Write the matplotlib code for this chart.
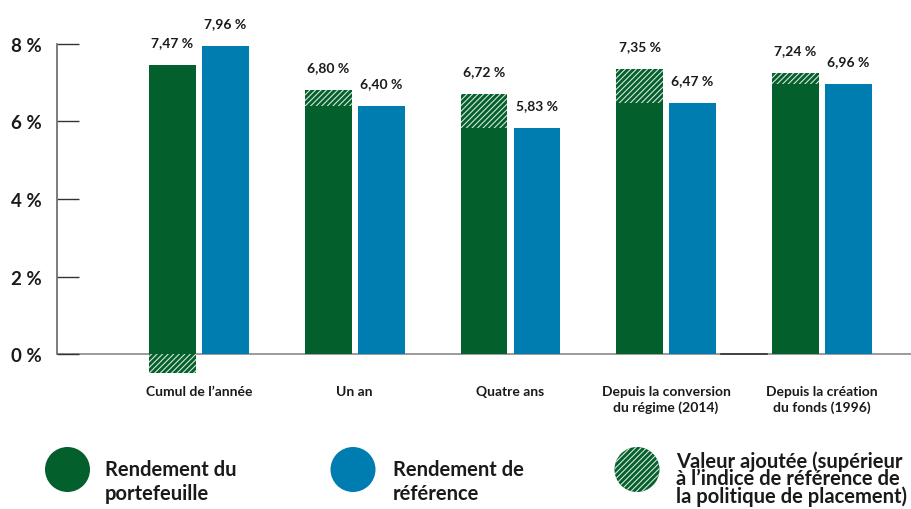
import matplotlib
matplotlib.use("Agg")
import matplotlib.pyplot as plt
from matplotlib.patches import Circle
import numpy as np

categories = ["Cumul de l\u2019année", "Un an", "Quatre ans",
              "Depuis la conversion\ndu régime (2014)", "Depuis la création\ndu fonds (1996)"]
portfolio = [7.47, 6.80, 6.72, 7.35, 7.24]
benchmark = [7.96, 6.40, 5.83, 6.47, 6.96]
yticks = [0, 2, 4, 6, 8]
ytick_labels = ["0 %", "2 %", "4 %", "6 %", "8 %"]
legend_labels = ["Rendement du\nportefeuille", "Rendement de\nréférence",
                 "Valeur ajoutée (supérieur\nà l\u2019indice de référence de\nla politique de placement)"]

GREEN = "#035f2c"
BLUE = "#007db0"
HATCH_C = "#d6e6d8"
FONT = "Lato"
HATCH = "//////"

plt.rcParams["font.family"] = [FONT, "DejaVu Sans"]
plt.rcParams["hatch.linewidth"] = 0.8

W, H = 911, 510
fig = plt.figure(figsize=(W / 100, H / 100), dpi=100)

# main axes: x pixels 57..911, y pixels 0..400
ax = fig.add_axes([57 / W, (H - 400) / H, (W - 57) / W, 400 / H])
ax.set_xlim(-0.912, 4.573)
ax.set_ylim(-1.161, 9.161)

x = np.arange(len(categories))
bw = 0.30
off = 0.17

for i in range(len(categories)):
    p, b = portfolio[i], benchmark[i]
    gx = x[i] - off
    bx = x[i] + off
    if p >= b:
        ax.bar(gx, b, bw, color=GREEN, linewidth=0, zorder=2)
        ax.bar(gx, p - b, bw, bottom=b, facecolor=GREEN, edgecolor=HATCH_C,
               hatch=HATCH, linewidth=0, zorder=2)
    else:
        ax.bar(gx, p, bw, color=GREEN, linewidth=0, zorder=2)
        ax.bar(gx, p - b, bw, bottom=0, facecolor=GREEN, edgecolor=HATCH_C,
               hatch=HATCH, linewidth=0, zorder=2)
    ax.bar(bx, b, bw, color=BLUE, linewidth=0, zorder=2)
    ax.annotate(f"{p:.2f} %".replace(".", ","), (gx, p), xytext=(0, 16.5),
                textcoords="offset points", ha="center", va="center",
                fontsize=10, fontweight="bold", color="#1a1a1a")
    ax.annotate(f"{b:.2f} %".replace(".", ","), (bx, b), xytext=(0, 16.5),
                textcoords="offset points", ha="center", va="center",
                fontsize=10, fontweight="bold", color="#1a1a1a")
    ax.annotate(categories[i], (x[i], 0), xytext=(0, -22),
                textcoords="offset points", ha="center", va="top",
                fontsize=10, fontweight="bold", color="#1a1a1a",
                linespacing=1.35, multialignment="center")

ax.axhline(0, color="#8a8a8a", linewidth=1.2, zorder=1)
# darker baseline segment between the last two groups
ax.plot([3 + off + bw / 2 + 0.03, 4 - off - bw / 2 - 0.03], [0, 0],
        color="#333333", linewidth=1.2, zorder=1.5)

for s in ["top", "right", "bottom"]:
    ax.spines[s].set_visible(False)
ax.spines["left"].set_bounds(0, 8)
ax.spines["left"].set_color("#666666")
ax.spines["left"].set_linewidth(1.2)

ax.set_yticks(yticks)
ax.set_yticklabels(ytick_labels, fontsize=13.5, fontweight="bold", color="#1a1a1a")
ax.tick_params(axis="y", direction="in", length=16, width=1, color="#333333", pad=11)
ax.set_xticks([])
ax.patch.set_visible(False)

# legend overlay in pixel coordinates
lax = fig.add_axes([0, 0, 1, 1])
lax.set_xlim(0, W)
lax.set_ylim(H, 0)
lax.axis("off")
lax.patch.set_visible(False)

lax.add_patch(Circle((67.5, 470.5), 22.5, color=GREEN, linewidth=0))
lax.add_patch(Circle((353, 470.5), 22.5, color=BLUE, linewidth=0))
lax.add_patch(Circle((637, 470.5), 22.5, facecolor=GREEN, edgecolor=HATCH_C,
                     hatch=HATCH, linewidth=0))

lax.text(105, 482.5, legend_labels[0], ha="left", va="center", fontsize=14.5,
         fontweight="bold", color="#1a1a1a", linespacing=1.25)
lax.text(393, 482.5, legend_labels[1], ha="left", va="center", fontsize=14.5,
         fontweight="bold", color="#1a1a1a", linespacing=1.25)
lax.text(676, 479, legend_labels[2], ha="left", va="center", fontsize=14.5,
         fontweight="bold", color="#1a1a1a", linespacing=0.82)

fig.savefig("out.png", dpi=100)
